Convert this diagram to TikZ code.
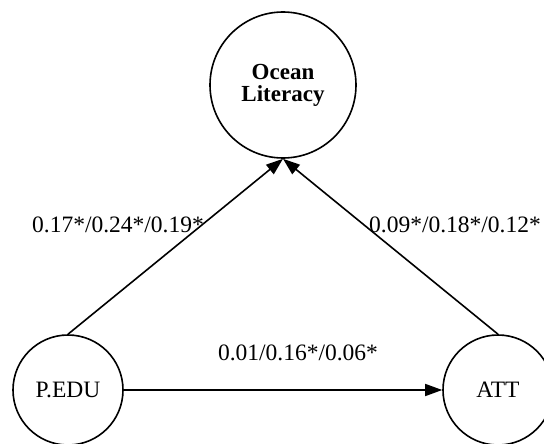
\documentclass[tikz,border=0pt]{standalone}
\usepackage{fontspec}
\setmainfont{Liberation Serif}
\usetikzlibrary{arrows.meta}
\begin{document}
\begin{tikzpicture}[x=1pt,y=-1pt,
  var/.style={circle,draw,line width=1.6pt,inner sep=0pt,font=\fontsize{23.5}{24}\selectfont},
  lbl/.style={font=\fontsize{23.5}{24}\selectfont,inner sep=0pt},
  path/.style={line width=1.6pt,-{Triangle[length=17pt,width=12pt]}}]
\useasboundingbox (0,0) rectangle (544,444);
\node[var,minimum size=146pt,align=center,font=\fontsize{23}{22}\selectfont\bfseries] (ol) at (283,85) {Ocean\\Literacy};
\node[var,minimum size=110pt] (pedu) at (68,390) {P.EDU};
\node[var,minimum size=110pt] (att) at (498,390) {ATT};
\draw[path] (pedu.north) -- (ol.south);
\draw[path] (att.north) -- (ol.south);
\draw[path] (pedu) -- (att);
\node[lbl] (l1) at (118,225) {0.17*/0.24*/0.19*};
\node[lbl] (l2) at (455,225) {0.09*/0.18*/0.12*};
\node[lbl] (l3) at (298,353) {0.01/0.16*/0.06*};
\end{tikzpicture}
\end{document}
